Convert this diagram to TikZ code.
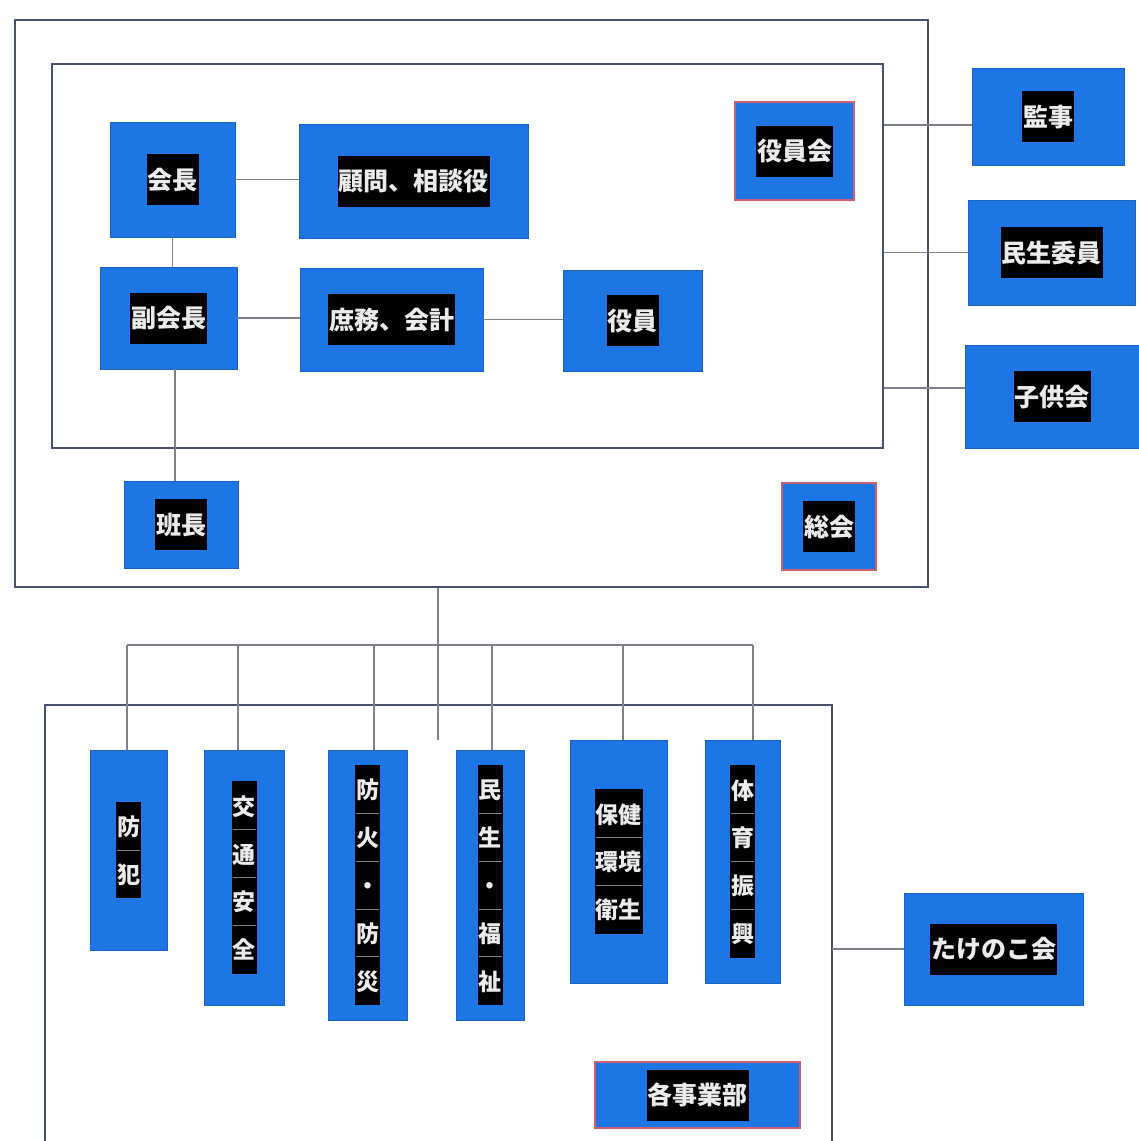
\documentclass[tikz,border=0pt]{standalone}
\usepackage{fontspec}
\usepackage{array}
\setmainfont{Noto Sans CJK JP}
\usetikzlibrary{positioning}
\definecolor{boxblue}{RGB}{30,118,228}
\definecolor{framecol}{RGB}{72,82,112}
\definecolor{linecol}{RGB}{128,128,138}
\definecolor{redline}{RGB}{205,95,115}
\tikzstyle{unit}=[fill=boxblue,draw=boxblue!85!black,line width=0.6pt,inner sep=0pt]
\tikzstyle{meeting}=[unit,draw=redline,line width=2pt]
\tikzstyle{frame}=[draw=framecol,line width=2.4pt,inner sep=0pt]
\tikzstyle{link}=[draw=linecol,line width=1.5pt]
\setlength{\fboxsep}{1pt}
\setlength{\arrayrulewidth}{0.8pt}
\newcommand{\lbl}[1]{\colorbox{black}{\rule[-15pt]{0pt}{49pt}\textcolor{white!92!black}{#1}}}
\newcommand{\vlbl}[1]{\colorbox{black}{\color{linecol}\fontsize{23}{28}\selectfont\bfseries
  \renewcommand{\arraystretch}{1.68}\begin{tabular}{@{}>{\color{white!92!black}}c@{}}#1\end{tabular}}}
\newcommand{\sep}{\\\hline}

\begin{document}
\begin{tikzpicture}[x=1pt,y=-1pt,every node/.style={font=\fontsize{25}{30}\selectfont\bfseries}]
\useasboundingbox (0,0) rectangle (1139,1141);

% frames
\node[frame,minimum width=913pt,minimum height=567pt] (outer) at (471.5,303.5) {};
\node[frame,minimum width=831pt,minimum height=384pt] (inner) at (467.5,256) {};
\coordinate (lfTL) at (45,705);
\coordinate (lfTR) at (832,705);
\draw[frame] (45,1141) -- (lfTL) -- (lfTR) -- (832,1141);

% officers
\node[unit,minimum width=125pt,minimum height=115pt] (kaicho) at (172.5,179.5) {\lbl{会長}};
\node[unit,minimum width=229pt,minimum height=114pt] (komon) at (413.5,181) {\lbl{顧問、相談役}};
\node[unit,minimum width=137pt,minimum height=102pt] (fukukaicho) at (168.5,318) {\lbl{副会長}};
\node[unit,minimum width=183pt,minimum height=103pt] (shomu) at (391.5,319.5) {\lbl{庶務、会計}};
\node[unit,minimum width=139pt,minimum height=101pt] (yakuin) at (632.5,320.5) {\lbl{役員}};
\node[meeting,minimum width=119pt,minimum height=98pt] (yakuinkai) at (794.5,151) {\lbl{役員会}};
\node[unit,minimum width=114pt,minimum height=87pt] (hancho) at (181,524.5) {\lbl{班長}};
\node[meeting,minimum width=94pt,minimum height=87pt] (sokai) at (829,526.5) {\lbl{総会}};

% outside
\node[unit,minimum width=152pt,minimum height=97pt] (kanji) at (1048,116.5) {\lbl{監事}};
\node[unit,minimum width=167pt,minimum height=105pt] (minsei) at (1051.5,252.5) {\lbl{民生委員}};
\node[unit,minimum width=174pt,minimum height=103pt] (kodomo) at (1052,396.5) {\lbl{子供会}};
\node[unit,minimum width=179pt,minimum height=112pt] (takenoko) at (993.5,949) {\lbl{たけのこ会}};

% departments
\node[unit,minimum width=77pt,minimum height=200pt] (bohan) at (128.5,850) {\vlbl{防\sep 犯}};
\node[unit,minimum width=80pt,minimum height=255pt] (kotsu) at (244,877.5) {\vlbl{交\sep 通\sep 安\sep 全}};
\node[unit,minimum width=79pt,minimum height=270pt] (boka) at (367.5,885) {\vlbl{防\sep 火\sep ・\sep 防\sep 災}};
\node[unit,minimum width=68pt,minimum height=270pt] (fukushi) at (490,885) {\vlbl{民\sep 生\sep ・\sep 福\sep 祉}};
\node[unit,minimum width=97pt,minimum height=243pt] (hoken) at (618.5,861.5) {\vlbl{保健\sep 環境\sep 衛生}};
\node[unit,minimum width=75pt,minimum height=243pt] (taiiku) at (742.5,861.5) {\vlbl{体\sep 育\sep 振\sep 興}};
\node[meeting,minimum width=205pt,minimum height=66pt] (jigyobu) at (697.5,1095) {\lbl{各事業部}};

% links
\draw[link] (kaicho.south) -- (kaicho.south |- fukukaicho.north);
\draw[link] (175,369) -- (hancho.north -| 175,0);
\draw[link] (kaicho.east) -- (kaicho.east -| komon.west);
\draw[link] (fukukaicho.east) -- (fukukaicho.east -| shomu.west);
\draw[link] (shomu.east) -- (shomu.east -| yakuin.west);
\draw[link] (inner.east |- 0,125) -- (kanji.west |- 0,125);
\draw[link] (inner.east |- minsei.west) -- (minsei.west);
\draw[link] (inner.east |- 0,388) -- (kodomo.west |- 0,388);
\draw[link] (takenoko.west) -- (takenoko.west -| lfTR);

\coordinate (busend) at (438,740);
\coordinate (bus) at (438,645);
\draw[link] (outer.south -| busend) -- (busend);
\draw[link] (127,645) -- (753,645);
\foreach \d/\x in {bohan/127,kotsu/238,boka/374,fukushi/492,hoken/623,taiiku/753}
  \draw[link] (\x,645) -- (\d.north -| \x,0);
\end{tikzpicture}
\end{document}
